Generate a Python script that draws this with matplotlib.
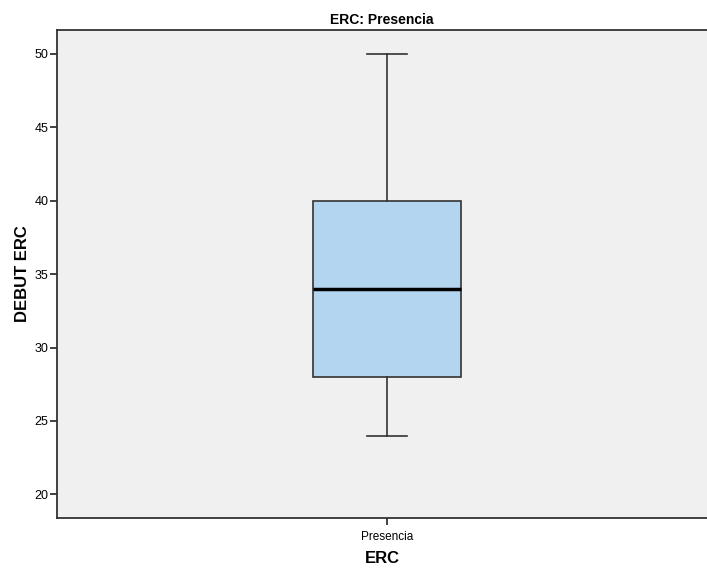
import matplotlib.pyplot as plt

plt.rcParams['font.family'] = ['Liberation Sans', 'DejaVu Sans']

# summary values for the single box (SPSS style)
categories = ['Presencia']
whislo = [24]
q1 = [28]
med = [34]
q3 = [40]
whishi = [50]

stats = []
for i in range(len(categories)):
    stats.append({'label': categories[i], 'whislo': whislo[i], 'q1': q1[i],
                  'med': med[i], 'q3': q3[i], 'whishi': whishi[i], 'fliers': []})

fig = plt.figure(figsize=(7.07, 5.68), dpi=100)
ax = fig.add_axes([0.0806, 0.088, 0.9194, 0.86])
ax.set_facecolor('#f0f0f0')

ax.bxp(stats, positions=[0], widths=0.5, patch_artist=True, showfliers=False,
       boxprops=dict(facecolor='#b4d5f0', edgecolor='#333333', linewidth=1.2),
       medianprops=dict(color='black', linewidth=2.5),
       whiskerprops=dict(color='#333333', linewidth=1.2),
       capprops=dict(color='#333333', linewidth=1.2),
       capwidths=0.135)

ax.set_xlim(-1.115, 1.081)
ax.set_ylim(18.39, 51.66)
ax.set_yticks([20, 25, 30, 35, 40, 45, 50])
ax.set_xticks([0])
ax.set_xticklabels(categories)

for s in ['left', 'top', 'bottom']:
    ax.spines[s].set_color('#333333')
    ax.spines[s].set_linewidth(1.3)
ax.spines['right'].set_visible(False)

ax.tick_params(axis='y', length=5, width=1.3, color='#333333', labelsize=9, pad=1)
ax.tick_params(axis='x', length=5, width=1.3, color='#333333', labelsize=8.5, pad=4)

ax.set_title('ERC: Presencia', fontsize=10, fontweight='bold', pad=4)
ax.set_ylabel('DEBUT ERC', fontsize=12, fontweight='bold', labelpad=3)
ax.set_xlabel('ERC', fontsize=12, fontweight='bold', labelpad=6)

fig.savefig('out.png', dpi=100)
